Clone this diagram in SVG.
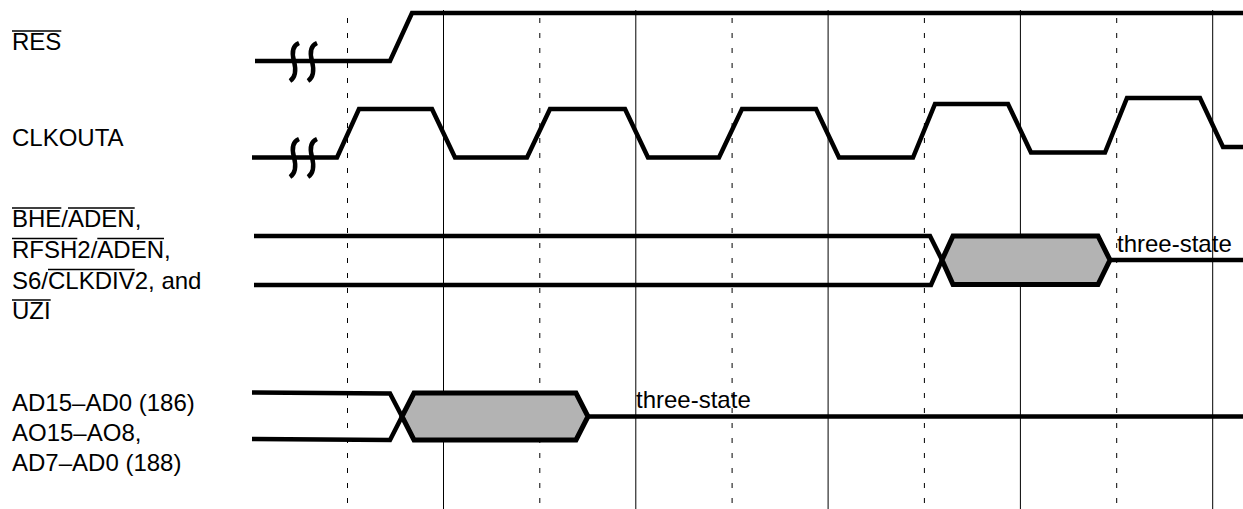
<svg xmlns="http://www.w3.org/2000/svg" width="1243" height="509" viewBox="0 0 1243 509">
  <style>
    .lbl { font-family: "Liberation Sans", Arial, sans-serif; font-size: 24px; fill: #000; }
    .ovl { stroke: #000; stroke-width: 1.5; fill: none; }
    .sig { stroke: #000; stroke-width: 4.5; fill: none; stroke-linejoin: miter; }
    .brk { stroke: #000; stroke-width: 4.5; fill: none; stroke-linecap: butt; }
    .hex { stroke: #000; stroke-width: 5; fill: #b3b3b3; stroke-linejoin: miter; }
    .solid { stroke: #000; stroke-width: 1; }
    .dash { stroke: #000; stroke-width: 1; stroke-dasharray: 5 10; }
  </style>
  <rect width="1243" height="509" fill="#fff"/>

  <g id="grid">
    <line class="dash" x1="347.5" y1="18" x2="347.5" y2="507"/>
    <line class="dash" x1="539.8" y1="18" x2="539.8" y2="507"/>
    <line class="dash" x1="732.1" y1="18" x2="732.1" y2="507"/>
    <line class="dash" x1="924.4" y1="18" x2="924.4" y2="507"/>
    <line class="dash" x1="1116.7" y1="18" x2="1116.7" y2="507"/>
    <line class="solid" x1="443.5" y1="10" x2="443.5" y2="509"/>
    <line class="solid" x1="635.8" y1="10" x2="635.8" y2="509"/>
    <line class="solid" x1="828.1" y1="10" x2="828.1" y2="509"/>
    <line class="solid" x1="1020.4" y1="10" x2="1020.4" y2="509"/>
    <line class="solid" x1="1212.7" y1="10" x2="1212.7" y2="509"/>
  </g>

  <g id="label-res">
    <text class="lbl" x="12" y="50">RES</text>
    <line class="ovl" x1="12" y1="31" x2="61.3" y2="31"/>
  </g>
  <g id="label-clkouta">
    <text class="lbl" x="12" y="146">CLKOUTA</text>
  </g>
  <g id="label-bhe">
    <text class="lbl" x="12" y="227">BHE/ADEN,</text>
    <line class="ovl" x1="12" y1="208" x2="61.3" y2="208"/>
    <line class="ovl" x1="68" y1="208" x2="134.7" y2="208"/>
    <text class="lbl" x="12" y="257.5">RFSH2/ADEN,</text>
    <line class="ovl" x1="12" y1="238.5" x2="77.3" y2="238.5"/>
    <line class="ovl" x1="97.3" y1="238.5" x2="164" y2="238.5"/>
    <text class="lbl" x="12" y="288.5">S6/CLKDIV2, and</text>
    <line class="ovl" x1="48" y1="269.5" x2="134.7" y2="269.5"/>
    <text class="lbl" x="12" y="319">UZI</text>
    <line class="ovl" x1="12" y1="300" x2="50.7" y2="300"/>
  </g>
  <g id="label-ad">
    <text class="lbl" x="12" y="411">AD15–AD0 (186)</text>
    <text class="lbl" x="12" y="441">AO15–AO8,</text>
    <text class="lbl" x="12" y="470.5">AD7–AD0 (188)</text>
  </g>

  <g id="connectors">
    <g id="sig-res">
      <polyline class="sig" points="255,61 390,61 412,13 1243,13"/>
      <path class="brk" d="M299 43 C292 46 292 54 294 61 C296 69 296 77 290 81"/>
      <path class="brk" d="M317 43 C310 46 310 54 312 61 C314 69 314 77 308 81"/>
    </g>
    <g id="sig-clkouta">
      <polyline class="sig" points="252,157.5 337,157.5 359,109 432,109 455,157.5 527,157.5 550,109 625,109 648,157.5 719,157.5 742,109 816,109 839,157.5 913,157.5 935,104 1008,104 1031,152.5 1105,152.5 1127,98 1200,98 1223,147 1243,147"/>
      <path class="brk" d="M299 139 C292 142 292 150 294 157 C296 165 296 173 290 177"/>
      <path class="brk" d="M317 139 C310 142 310 150 312 157 C314 165 314 173 308 177"/>
    </g>
    <g id="sig-bhe">
      <polyline class="sig" points="254,236 930,236 942,260"/>
      <polyline class="sig" points="254,285 931,285 942,260"/>
      <polygon class="hex" points="942,260 953,236 1098,236 1110,260 1098,284.5 953,284.5"/>
      <line class="sig" x1="1110" y1="260" x2="1243" y2="260"/>
      <text class="lbl" x="1117" y="252">three-state</text>
    </g>
    <g id="sig-ad">
      <polyline class="sig" points="252,392.5 390,393.5 402,416.5"/>
      <polyline class="sig" points="252,439 390,440 402,416.5"/>
      <polygon class="hex" points="402,416.5 414,393 576,393 588,416.5 576,440 414,440"/>
      <line class="sig" x1="588" y1="416.5" x2="1243" y2="416.5"/>
      <text class="lbl" x="636" y="408">three-state</text>
    </g>
  </g>
</svg>
